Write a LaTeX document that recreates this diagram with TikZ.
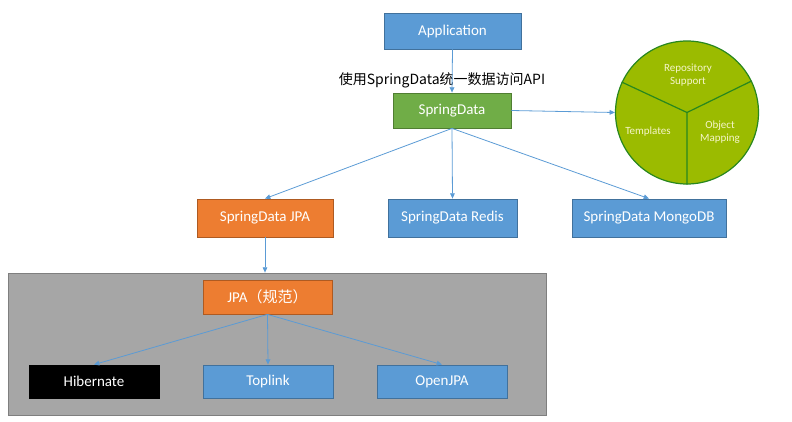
\documentclass[tikz,border=0pt]{standalone}
\usepackage{fontspec}
\setmainfont{Carlito}
\newfontfamily\cjk{Noto Sans CJK SC}
\usetikzlibrary{arrows.meta}
\tikzset{every picture/.style={line width=0.75pt}}

\begin{document}
\begin{tikzpicture}[x=0.75pt,y=0.75pt,yscale=-1,xscale=1,
    box/.style={draw, line width=0.6pt, inner sep=0pt, text=white, font=\fontsize{11.25}{13}\selectfont},
    bluebox/.style={box, fill={rgb, 255:red, 91; green, 155; blue, 213}, draw={rgb, 255:red, 65; green, 113; blue, 156}},
    greenbox/.style={box, fill={rgb, 255:red, 112; green, 173; blue, 71}, draw={rgb, 255:red, 80; green, 126; blue, 50}},
    orangebox/.style={box, fill={rgb, 255:red, 237; green, 125; blue, 49}, draw={rgb, 255:red, 174; green, 90; blue, 33}},
    blackbox/.style={box, fill=black, draw=black},
    pietext/.style={text={rgb, 255:red, 245; green, 245; blue, 200}, font=\fontsize{8.25}{10}\selectfont, align=center, inner sep=0.75pt},
    link/.style={draw={rgb, 255:red, 91; green, 155; blue, 213}, line width=0.6pt, -{Triangle[length=4pt,width=3.5pt]}}
  ]
        \useasboundingbox (0,0) rectangle (792,421);

        %Shape: Rectangle (container)
        \node [draw={rgb, 255:red, 127; green, 127; blue, 127}, fill={rgb, 255:red, 166; green, 166; blue, 166}, line width=0.6pt, minimum width=403.5pt, minimum height=106.5pt, inner sep=0pt] (jpabox) at (277,344) {};

        %Shape: Rectangle
        \node [bluebox, minimum width=102.75pt, minimum height=27pt] (app) at (452.5,31) {Application};
        %Shape: Rectangle
        \node [greenbox, minimum width=88.5pt, minimum height=26.25pt] (sd) at (452,110.5) {SpringData};
        % Text Node
        \node [inner sep=0.75pt, font=\cjk\fontsize{10.5}{12}\selectfont] (uselabel) at (442,80) {使用SpringData统一数据访问API};

        %Shape: Rectangle
        \node [orangebox, minimum width=102pt, minimum height=28.5pt] (sdjpa) at (265,218) {SpringData JPA};
        %Shape: Rectangle
        \node [bluebox, minimum width=96.75pt, minimum height=28.5pt] (sdredis) at (452.5,218) {SpringData Redis};
        %Shape: Rectangle
        \node [bluebox, minimum width=115.5pt, minimum height=28.5pt] (sdmongo) at (649,218) {SpringData MongoDB};

        %Shape: Rectangle
        \node [orangebox, minimum width=96.75pt, minimum height=25.5pt] (jpa) at (267.5,297) {JPA{\cjk（规范）}};
        %Shape: Rectangle
        \node [blackbox, minimum width=97.5pt, minimum height=24.75pt] (hibernate) at (94,381.5) {Hibernate};
        %Shape: Rectangle
        \node [bluebox, minimum width=97.5pt, minimum height=24.75pt] (toplink) at (268,381.5) {Toplink};
        %Shape: Rectangle
        \node [bluebox, minimum width=97.5pt, minimum height=24.75pt] (openjpa) at (442,381.5) {OpenJPA};

        %Shape: Circle
        \node [circle, draw={rgb, 255:red, 40; green, 135; blue, 30}, fill={rgb, 255:red, 155; green, 187; blue, 0}, line width=0.9pt, minimum size=107.25pt, inner sep=0pt] (pie) at (687,112.5) {};
        %Straight Lines
        \draw [draw={rgb, 255:red, 40; green, 135; blue, 30}, line width=0.9pt] (pie.center) -- (pie.155) (pie.center) -- (pie.26) (pie.center) -- (pie.270);
        % Text Node
        \node [pietext] (repo) at (688,75) {Repository\\Support};
        % Text Node
        \node [pietext] (tmpl) at (648,132) {Templates};
        % Text Node
        \node [pietext] (objmap) at (720,132) {Object\\Mapping};

        %Straight Lines
        \draw [link] (app.south) -- (sd.north);
        \draw [link] (sd.east) -- (pie.west);
        \draw [link] (sd.south) -- (sdjpa.north);
        \draw [link] (sd.south) -- (sdredis.north);
        \draw [link] (sd.south) -- (sdmongo.north);
        \draw [link] (sdjpa.south) -- (sdjpa.south |- jpabox.north);
        \draw [link] (jpa.south) -- (hibernate.north);
        \draw [link] (jpa.south) -- (toplink.north);
        \draw [link] (jpa.south) -- (openjpa.north);

    \end{tikzpicture}
\end{document}
